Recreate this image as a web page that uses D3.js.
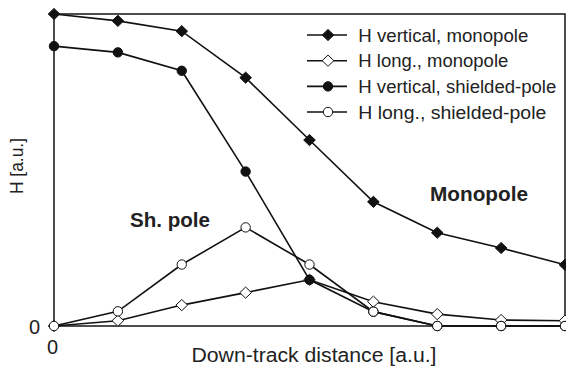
<!DOCTYPE html>
<html><head><meta charset="utf-8">
<script src="https://cdn.jsdelivr.net/npm/d3@7"></script>
<style>body{margin:0;background:#fff}svg{display:block}text{font-family:"Liberation Sans",Arial,sans-serif;fill:#222}</style>
</head><body><svg id="c" width="566" height="368"></svg>
<script>
const positions = [0,1,2,3,4,5,6,7,8];
const vertMono   = [1.0, 0.978, 0.945, 0.796, 0.596, 0.398, 0.299, 0.25, 0.196];
const longMono   = [0, 0.017, 0.067, 0.107, 0.148, 0.078, 0.038, 0.019, 0.017];
const vertShield = [0.897, 0.877, 0.818, 0.495, 0.148, 0.046, 0, 0, 0];
const longShield = [0, 0.047, 0.197, 0.316, 0.197, 0.046, 0, 0, 0];
const seriesNames = ["H vertical, monopole","H long., monopole","H vertical, shielded-pole","H long., shielded-pole"];
const xTickLabels = ["0"];
const yTickLabels = ["0"];

const svg = d3.select("#c");
const L=54, R=565, T=14, B=326;
const x = d3.scaleLinear().domain([0,8]).range([L,R]);
const y = d3.scaleLinear().domain([0,1]).range([B,T]);

const series = [
  {name:seriesNames[0], vals:vertMono, shape:"diamond", fill:"#111", len:170},
  {name:seriesNames[1], vals:longMono, shape:"diamond", fill:"#fff", len:150},
  {name:seriesNames[2], vals:vertShield, shape:"circle", fill:"#111", len:198},
  {name:seriesNames[3], vals:longShield, shape:"circle", fill:"#fff", len:188}
];

svg.append("rect").attr("x",L).attr("y",T).attr("width",R-L).attr("height",B-T)
  .attr("fill","none").attr("stroke","#222").attr("stroke-width",1.6);

const line = d3.line().x((d,i)=>x(positions[i])).y(d=>y(d));
function marker(g, shape, fill, cx, cy){
  if(shape==="diamond"){
    g.append("path").attr("d",`M${cx},${cy-5.6}L${cx+5.8},${cy}L${cx},${cy+5.6}L${cx-5.8},${cy}Z`)
     .attr("fill",fill).attr("stroke","#111").attr("stroke-width",1);
  } else {
    g.append("circle").attr("cx",cx).attr("cy",cy).attr("r",4.7)
     .attr("fill",fill).attr("stroke","#111").attr("stroke-width",1);
  }
}
series.forEach(s=>{
  const g = svg.append("g");
  g.append("path").attr("d",line(s.vals)).attr("fill","none").attr("stroke","#111").attr("stroke-width",1.6);
  s.vals.forEach((v,i)=>marker(g,s.shape,s.fill,x(positions[i]),y(v)));
});

const xAxis = d3.axisBottom(x).tickValues([0]).tickFormat((d,i)=>xTickLabels[i]).tickSize(0).tickPadding(14);
const gx = svg.append("g").attr("transform",`translate(-2,${B})`).call(xAxis);
gx.select(".domain").remove();
gx.selectAll("text").attr("font-size",20).style("font-family","Liberation Sans, Arial, sans-serif").attr("fill","#222");
const yAxis = d3.axisLeft(y).tickValues([0]).tickFormat((d,i)=>yTickLabels[i]).tickSize(0).tickPadding(14);
const gy = svg.append("g").attr("transform",`translate(${L},1)`).call(yAxis);
gy.select(".domain").remove();
gy.selectAll("text").attr("font-size",20).style("font-family","Liberation Sans, Arial, sans-serif").attr("fill","#222");

function txt(xp,yp,s,size,len,opts={}){
  const t = svg.append("text").attr("x",xp).attr("y",yp).attr("font-size",size)
    .attr("textLength",len).attr("lengthAdjust","spacingAndGlyphs").text(s);
  if(opts.bold) t.attr("font-weight","bold");
  if(opts.transform) t.attr("transform",opts.transform);
  return t;
}
txt(191.5,362,"Down-track distance [a.u.]",19.5,245);
txt(0,0,"H [a.u.]",17.5,56,{transform:"translate(23,194) rotate(-90)"});
txt(130,227,"Sh. pole",20.5,80,{bold:true});
txt(430,201,"Monopole",20.5,98,{bold:true});

const legY = [35,60.7,86.4,112];
series.forEach((s,i)=>{
  const g = svg.append("g");
  g.append("line").attr("x1",307).attr("x2",347).attr("y1",legY[i]).attr("y2",legY[i]).attr("stroke","#111").attr("stroke-width",1.6);
  marker(g,s.shape,s.fill,328,legY[i]);
  const t = g.append("text").attr("x",358.3).attr("y",legY[i]+6.5).attr("font-size",17.5)
    .attr("textLength",s.len).attr("lengthAdjust","spacingAndGlyphs").text(s.name);
});
</script></body></html>
